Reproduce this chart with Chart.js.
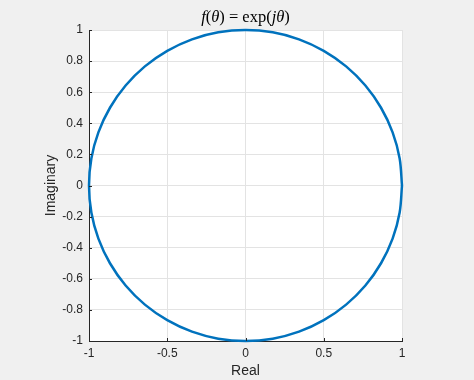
<!DOCTYPE html>
<html>
<head>
<meta charset="utf-8">
<script src="https://cdn.jsdelivr.net/npm/chart.js@4/dist/chart.umd.min.js"></script>
<style>
  body { margin: 0; background: #f0f0f0; }
</style>
</head>
<body>
<canvas id="circlePlot" width="474" height="380"></canvas>
<script>
// points of exp(j*theta), every 10 degrees
const realPart = [1, 0.985, 0.940, 0.866, 0.766, 0.643, 0.500, 0.342, 0.174, 0,
  -0.174, -0.342, -0.500, -0.643, -0.766, -0.866, -0.940, -0.985, -1,
  -0.985, -0.940, -0.866, -0.766, -0.643, -0.500, -0.342, -0.174, 0,
  0.174, 0.342, 0.500, 0.643, 0.766, 0.866, 0.940, 0.985, 1];
const imagPart = [0, 0.174, 0.342, 0.500, 0.643, 0.766, 0.866, 0.940, 0.985, 1,
  0.985, 0.940, 0.866, 0.766, 0.643, 0.500, 0.342, 0.174, 0,
  -0.174, -0.342, -0.500, -0.643, -0.766, -0.866, -0.940, -0.985, -1,
  -0.985, -0.940, -0.866, -0.766, -0.643, -0.500, -0.342, -0.174, 0];

const xTicks = [-1, -0.5, 0, 0.5, 1];
const xTickLabels = ['-1', '-0.5', '0', '0.5', '1'];
const yTicks = [-1, -0.8, -0.6, -0.4, -0.2, 0, 0.2, 0.4, 0.6, 0.8, 1];
const yTickLabels = ['-1', '-0.8', '-0.6', '-0.4', '-0.2', '0', '0.2', '0.4', '0.6', '0.8', '1'];

const axisColor = '#262626';

// figure background + white axes box
const background = {
  id: 'background',
  beforeDraw(chart) {
    const { ctx, chartArea: a } = chart;
    ctx.save();
    ctx.fillStyle = '#f0f0f0';
    ctx.fillRect(0, 0, chart.width, chart.height);
    ctx.fillStyle = '#ffffff';
    ctx.fillRect(a.left, a.top, a.right - a.left, a.bottom - a.top);
    ctx.restore();
  }
};

// matlab style inward ticks on left and bottom
const inwardTicks = {
  id: 'inwardTicks',
  afterDatasetsDraw(chart) {
    const { ctx, chartArea: a, scales } = chart;
    ctx.save();
    ctx.strokeStyle = axisColor;
    ctx.lineWidth = 1;
    ctx.beginPath();
    xTicks.forEach(v => {
      const px = Math.round(scales.x.getPixelForValue(v)) + 0.5;
      ctx.moveTo(px, a.bottom);
      ctx.lineTo(px, a.bottom - 3);
    });
    yTicks.forEach(v => {
      const py = Math.round(scales.y.getPixelForValue(v)) + 0.5;
      ctx.moveTo(a.left, py);
      ctx.lineTo(a.left + 3, py);
    });
    ctx.stroke();
    ctx.restore();
  }
};

// latex-ish title: f(θ) = exp(jθ)
const mathTitle = {
  id: 'mathTitle',
  afterDraw(chart) {
    const { ctx, chartArea: a } = chart;
    const parts = [
      ['f', true], ['(', false], ['θ', true], [')', false], [' = ', false],
      ['exp', false], ['(', false], ['j', true], ['θ', true], [')', false]
    ];
    const fam = '"Liberation Serif", "DejaVu Serif", serif';
    const fontOf = it => (it ? 'italic ' : '') + '16.5px ' + fam;
    ctx.save();
    let total = 0;
    parts.forEach(([t, it]) => { ctx.font = fontOf(it); total += ctx.measureText(t).width; });
    let x = (a.left + a.right) / 2 - total / 2;
    ctx.fillStyle = '#000000';
    ctx.textBaseline = 'alphabetic';
    parts.forEach(([t, it]) => {
      ctx.font = fontOf(it);
      ctx.fillText(t, x, 22);
      x += ctx.measureText(t).width;
    });
    ctx.restore();
  }
};

const tickFont = { family: '"Liberation Sans", Arial, sans-serif', size: 12 };
const labelFont = { family: '"Liberation Sans", Arial, sans-serif', size: 14 };

new Chart(document.getElementById('circlePlot'), {
  type: 'line',
  data: {
    datasets: [{
      data: realPart.map((re, i) => ({ x: re, y: imagPart[i] })),
      borderColor: '#0072BD',
      borderWidth: 2.5,
      pointRadius: 0,
      fill: false,
      tension: 0.33,
      clip: false
    }]
  },
  options: {
    responsive: false,
    animation: false,
    layout: { padding: { left: 0, right: 72, top: 30, bottom: 0 } },
    plugins: {
      legend: { display: false },
      tooltip: { enabled: false }
    },
    scales: {
      x: {
        type: 'linear',
        min: -1,
        max: 1,
        afterBuildTicks: s => { s.ticks = xTicks.map(v => ({ value: v })); },
        afterFit: s => { s.height = 39; },
        ticks: {
          color: axisColor,
          font: tickFont,
          padding: 5,
          maxRotation: 0,
          callback: (v, i) => xTickLabels[i]
        },
        grid: { color: '#e3e3e3', drawTicks: false },
        border: { color: axisColor, width: 1 },
        title: {
          display: true,
          text: 'Real',
          color: axisColor,
          font: labelFont,
          padding: { top: 0, bottom: 0 }
        }
      },
      y: {
        type: 'linear',
        min: -1,
        max: 1,
        afterBuildTicks: s => { s.ticks = yTicks.map(v => ({ value: v })); },
        afterFit: s => { s.width = 89; },
        ticks: {
          color: axisColor,
          font: tickFont,
          padding: 6,
          callback: (v, i) => yTickLabels[i]
        },
        grid: { color: '#e3e3e3', drawTicks: false },
        border: { color: axisColor, width: 1 },
        title: {
          display: true,
          text: 'Imaginary',
          color: axisColor,
          font: labelFont,
          padding: { top: 43, bottom: 0 }
        }
      }
    }
  },
  plugins: [background, inwardTicks, mathTitle]
});
</script>
</body>
</html>
